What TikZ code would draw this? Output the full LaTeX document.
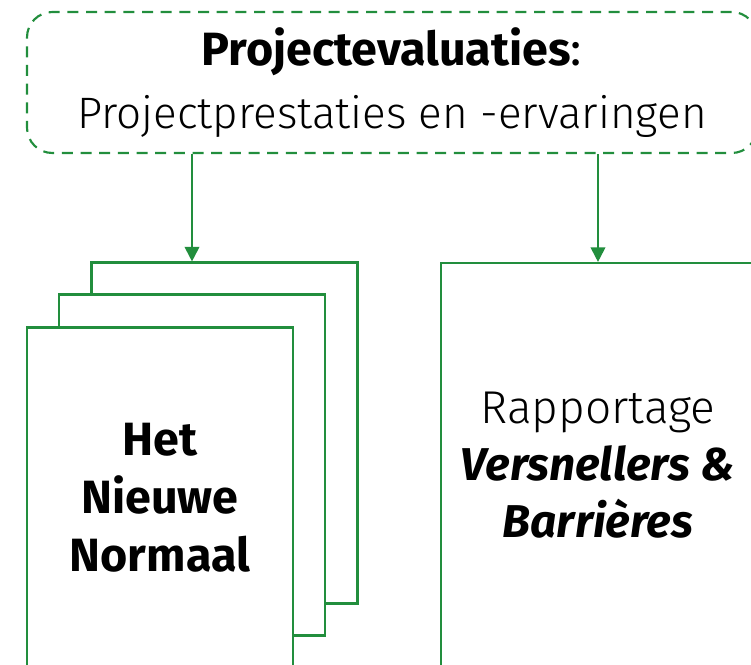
\documentclass[tikz,border=0pt]{standalone}
\usepackage{fontspec}
\setmainfont{Fira Sans}
\newfontfamily\lightfont{Fira Sans Light}
\usepackage{tikz}
\usetikzlibrary{arrows.meta}
\usepackage{xcolor}
\definecolor{evalgreen}{RGB}{34,142,61}

\tikzset{
	page/.style={draw=evalgreen,line width=1.6pt,fill=white,inner sep=0pt,
		minimum width=199.5pt,minimum height=255.75pt,align=center},
	flow/.style={draw=evalgreen,line width=1.5pt,-{Triangle[length=11pt,width=11pt]}}
}

\begin{document}
\begin{tikzpicture}[x=0.75pt,y=-0.75pt]
		\useasboundingbox (0,0) rectangle (751,665);
		
		\node[draw=evalgreen,line width=1.6pt,dash pattern=on 8.25pt off 5.75pt,
			rounded corners=19pt,minimum width=547.5pt,minimum height=105.75pt,
			align=center,font=\fontsize{33}{47}\selectfont] (eval) at (392,82.5)
			{{\fontsize{35}{47}\selectfont\textbf{Projectevaluaties}:}\\{\lightfont Projectprestaties en -ervaringen}};
		
		\node[page] (back) at (224.5,433) {};
		\node[page] (mid) at (192,465) {};
		\node[page,font=\fontsize{35}{43.5}\selectfont\bfseries] (front) at (160,498)
			{Het\\Nieuwe\\Normaal};
		
		\node[page,minimum width=235.5pt,minimum height=303pt,
			font=\fontsize{34.5}{43}\selectfont] (report) at (598,465)
			{{\lightfont Rapportage}\\\textbf{\textit{Versnellers \&}}\\\textbf{\textit{Barrières}}};
		
		\draw[flow] (eval.south -| mid) -- (back.north -| mid);
		\draw[flow] (eval.south -| report) -- (report.north);
	\end{tikzpicture}
\end{document}
